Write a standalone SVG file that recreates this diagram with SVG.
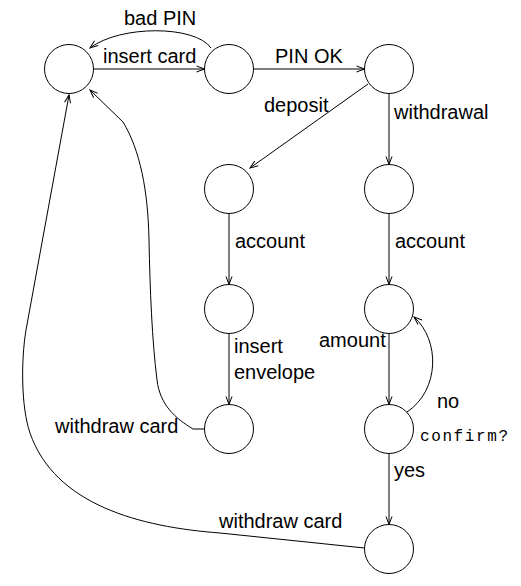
<svg xmlns="http://www.w3.org/2000/svg" width="521" height="586" viewBox="0 0 521 586">
<style>
.node{fill:#fff;stroke:#000;stroke-width:1}
.edge{fill:none;stroke:#000;stroke-width:1;marker-end:url(#arr)}
.lbl{font-family:"Liberation Sans",Arial,sans-serif;font-size:20px;fill:#000}
.mono{font-family:"Liberation Mono","Courier New",monospace;font-size:16px;letter-spacing:1.6px;fill:#000}
</style>
<defs>
<marker id="arr" markerUnits="userSpaceOnUse" markerWidth="12" markerHeight="10" viewBox="0 0 12 10" refX="9" refY="5" orient="auto">
<path d="M1,2 L9,5 L1,8" fill="none" stroke="#000" stroke-width="1"/>
</marker>
</defs>
<rect width="521" height="586" fill="#fff"/>
<g id="connectors">
<path class="edge" d="M93.5 69 L204.5 69"/>
<path class="edge" d="M211 48 C195 25 120 25 90 48"/>
<path class="edge" d="M253.5 69 L364.5 69"/>
<path class="edge" d="M368 84 L250 168"/>
<path class="edge" d="M389 93.5 L389 164.5"/>
<path class="edge" d="M229 213.5 L229 284.5"/>
<path class="edge" d="M389 213.5 L389 284.5"/>
<path class="edge" d="M229 333.5 L229 404.5"/>
<path class="edge" d="M389 333.5 L389 404.5"/>
<path class="edge" d="M407 412 C440 390 440 340 414 317"/>
<path class="edge" d="M389 453.5 L389 524.5"/>
<path class="edge" d="M204.5 429 L193 429 C175 418 160 405 157 380 C152 340 150 290 149 240 C148 190 140 150 123 122 L90 90"/>
<path class="edge" d="M364.5 548 L220 533 C140 527 55 505 30 433 C21 407 21 360 26 330 L69 95"/>
<text class="lbl" x="124" y="25">bad PIN</text>
<text class="lbl" x="103" y="63">insert card</text>
<text class="lbl" x="275" y="63">PIN OK</text>
<text class="lbl" x="264" y="112">deposit</text>
<text class="lbl" x="394" y="119">withdrawal</text>
<text class="lbl" x="235" y="248">account</text>
<text class="lbl" x="395" y="248">account</text>
<text class="lbl" x="234" y="353">insert</text>
<text class="lbl" x="234" y="379">envelope</text>
<text class="lbl" x="319" y="347">amount</text>
<text class="lbl" x="55" y="433">withdraw card</text>
<text class="lbl" x="437" y="408">no</text>
<text class="mono" x="420" y="441">confirm?</text>
<text class="lbl" x="394" y="477">yes</text>
<text class="lbl" x="219" y="528">withdraw card</text>
</g>
<g id="n1"><circle class="node" cx="69" cy="69" r="24.5"/></g>
<g id="n2"><circle class="node" cx="229" cy="69" r="24.5"/></g>
<g id="n3"><circle class="node" cx="389" cy="69" r="24.5"/></g>
<g id="n4"><circle class="node" cx="229" cy="189" r="24.5"/></g>
<g id="n5"><circle class="node" cx="389" cy="189" r="24.5"/></g>
<g id="n6"><circle class="node" cx="229" cy="309" r="24.5"/></g>
<g id="n7"><circle class="node" cx="389" cy="309" r="24.5"/></g>
<g id="n8"><circle class="node" cx="229" cy="429" r="24.5"/></g>
<g id="n9"><circle class="node" cx="389" cy="429" r="24.5"/></g>
<g id="n10"><circle class="node" cx="389" cy="549" r="24.5"/></g>
</svg>
